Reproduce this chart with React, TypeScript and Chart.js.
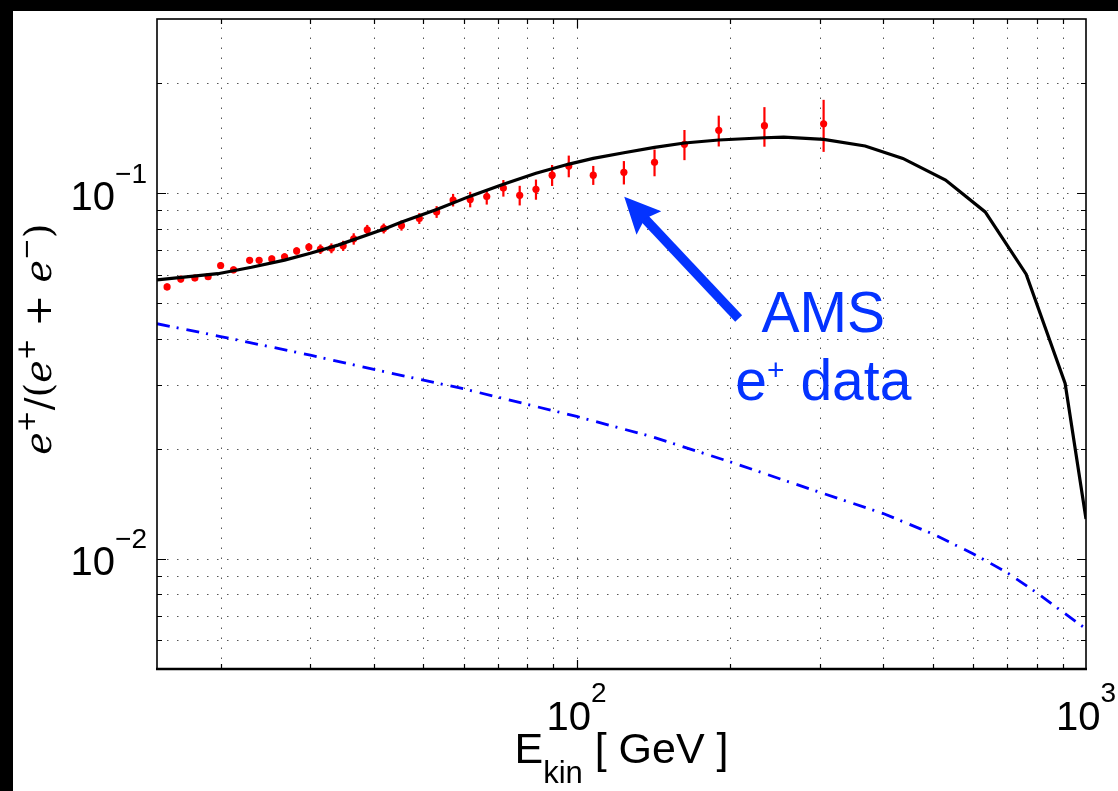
import React, { useEffect, useRef } from 'react';
import { Chart, registerables } from 'chart.js';

Chart.register(...registerables);

const WIDTH = 1118;
const HEIGHT = 791;

// AMS positron fraction data points
const amsEnergy = [15.7, 16.7, 17.8, 18.9, 20.0, 21.2, 22.8, 23.8, 25.2, 26.7, 28.2, 29.8, 31.4, 33.0, 34.8, 36.5, 38.8, 41.8, 45.3, 49.1, 53.1, 57.2, 61.8, 66.6, 71.8, 77.3, 83.2, 89.5, 96.5, 107.8, 123.8, 142.2, 162.8, 190.1, 233.7, 305.4];
const amsFraction = [0.0555, 0.0583, 0.0587, 0.0592, 0.0635, 0.0618, 0.0656, 0.0656, 0.0662, 0.0671, 0.0696, 0.0713, 0.0704, 0.0708, 0.0719, 0.0751, 0.0795, 0.0802, 0.0817, 0.0854, 0.0890, 0.0959, 0.0963, 0.0980, 0.1034, 0.0988, 0.1026, 0.1122, 0.1188, 0.1122, 0.1142, 0.1216, 0.1362, 0.1488, 0.1532, 0.1551];
const amsError = [0.0012, 0.0012, 0.0012, 0.0012, 0.0013, 0.0013, 0.0014, 0.0014, 0.0014, 0.0015, 0.0016, 0.0018, 0.0021, 0.0022, 0.0023, 0.0027, 0.0025, 0.0025, 0.0026, 0.0029, 0.0033, 0.0038, 0.0047, 0.0048, 0.0054, 0.0061, 0.0065, 0.0074, 0.0081, 0.0067, 0.0084, 0.0102, 0.0129, 0.0144, 0.0190, 0.0252];

// Model (black solid curve)
const modelEnergy = [15, 19.75, 23, 26.7, 30, 34, 41.9, 45.2, 53.1, 61.8, 71.8, 83.2, 96.6, 107.8, 123.8, 142.2, 162.8, 190.1, 233.7, 255, 305.4, 368.4, 436.9, 530, 634, 763, 910, 1000];
const modelFraction = [0.0580, 0.0603, 0.0628, 0.0657, 0.0686, 0.0722, 0.0799, 0.0834, 0.0904, 0.0983, 0.1060, 0.1135, 0.1203, 0.1247, 0.1292, 0.1337, 0.1374, 0.1400, 0.1420, 0.1426, 0.1406, 0.1348, 0.1247, 0.1088, 0.0890, 0.0601, 0.0302, 0.01287];

// Secondary background (blue dash-dot curve)
const secondaryEnergy = [15, 20, 30, 40, 60, 100, 140, 202, 253, 331, 400, 500, 600, 700, 800, 956, 1000];
const secondaryFraction = [0.0440, 0.0406, 0.0361, 0.0330, 0.0292, 0.02454, 0.02163, 0.01836, 0.01649, 0.01454, 0.01331, 0.01171, 0.01034, 0.00918, 0.00809, 0.00673, 0.00644];

// Axes
const xRange = [15, 1000];
const yRange = [0.005, 0.3];
const xGridValues = [20, 30, 40, 50, 60, 70, 80, 90, 100, 200, 300, 400, 500, 600, 700, 800, 900];
const xMajorValues = [100, 1000];
const yGridValues = [0.006, 0.007, 0.008, 0.009, 0.01, 0.02, 0.03, 0.04, 0.05, 0.06, 0.07, 0.08, 0.09, 0.1, 0.2];
const yMajorValues = [0.01, 0.1];
const xTickLabels = [
  { value: 100, base: '10', exp: '2' },
  { value: 1000, base: '10', exp: '3' },
];
const yTickLabels = [
  { value: 0.1, base: '10', exp: '\u22121' },
  { value: 0.01, base: '10', exp: '\u22122' },
];

// Annotation anchors (data coordinates)
const annotationTip = { x: 124, y: 0.0979 };
const annotationTail = { x: 208, y: 0.0455 };
const annotationText = { x: 305, line1: 0.0418, line2: 0.0272 };

const SANS = '"Liberation Sans", Arial, Helvetica, sans-serif';
const SERIF = '"DejaVu Serif", "Liberation Serif", serif';
const BLUE_ANN = '#0433ff';

type Run = { t: string; font: string; dy?: number };

function runsWidth(ctx: CanvasRenderingContext2D, runs: Run[]) {
  let w = 0;
  for (const r of runs) {
    ctx.font = r.font;
    w += ctx.measureText(r.t).width;
  }
  return w;
}

function drawRuns(ctx: CanvasRenderingContext2D, runs: Run[], x: number, y: number) {
  let cx = x;
  for (const r of runs) {
    ctx.font = r.font;
    ctx.fillText(r.t, cx, y + (r.dy || 0));
    cx += ctx.measureText(r.t).width;
  }
}

const decorPlugin = {
  id: 'decor',
  beforeDraw(chart: any) {
    const ctx: CanvasRenderingContext2D = chart.ctx;
    ctx.save();
    ctx.fillStyle = '#ffffff';
    ctx.fillRect(0, 0, WIDTH, HEIGHT);
    ctx.fillStyle = '#000000';
    ctx.fillRect(0, 0, WIDTH, 11);
    ctx.fillRect(0, 0, 13, HEIGHT);
    ctx.restore();
  },
  beforeDatasetsDraw(chart: any) {
    const ctx: CanvasRenderingContext2D = chart.ctx;
    const a = chart.chartArea;
    const xs = chart.scales.x;
    const ys = chart.scales.y;
    ctx.save();
    // dotted grid
    ctx.strokeStyle = '#555555';
    ctx.lineWidth = 1;
    ctx.setLineDash([1.5, 8.5]);
    for (const v of xGridValues) {
      const px = Math.round(xs.getPixelForValue(v)) + 0.5;
      ctx.beginPath();
      ctx.moveTo(px, a.bottom);
      ctx.lineTo(px, a.top);
      ctx.stroke();
    }
    for (const v of yGridValues) {
      const py = Math.round(ys.getPixelForValue(v)) + 0.5;
      ctx.beginPath();
      ctx.moveTo(a.left, py);
      ctx.lineTo(a.right, py);
      ctx.stroke();
    }
    ctx.setLineDash([]);
    // error bars
    ctx.strokeStyle = '#ff0000';
    ctx.lineWidth = 2.2;
    for (let i = 0; i < amsEnergy.length; i++) {
      const px = xs.getPixelForValue(amsEnergy[i]);
      const p1 = ys.getPixelForValue(amsFraction[i] - amsError[i]);
      const p2 = ys.getPixelForValue(amsFraction[i] + amsError[i]);
      ctx.beginPath();
      ctx.moveTo(px, p1);
      ctx.lineTo(px, p2);
      ctx.stroke();
    }
    ctx.restore();
  },
  afterDraw(chart: any) {
    const ctx: CanvasRenderingContext2D = chart.ctx;
    const a = chart.chartArea;
    const xs = chart.scales.x;
    const ys = chart.scales.y;
    ctx.save();

    // inward ticks
    ctx.strokeStyle = '#000000';
    ctx.lineWidth = 1.2;
    for (const v of xGridValues) {
      const len = xMajorValues.includes(v) ? 9 : 5;
      const px = Math.round(xs.getPixelForValue(v)) + 0.5;
      ctx.beginPath();
      ctx.moveTo(px, a.bottom);
      ctx.lineTo(px, a.bottom - len);
      ctx.moveTo(px, a.top);
      ctx.lineTo(px, a.top + len);
      ctx.stroke();
    }
    for (const v of yGridValues) {
      const len = yMajorValues.includes(v) ? 9 : 5;
      const py = Math.round(ys.getPixelForValue(v)) + 0.5;
      ctx.beginPath();
      ctx.moveTo(a.left, py);
      ctx.lineTo(a.left + len, py);
      ctx.moveTo(a.right, py);
      ctx.lineTo(a.right - len, py);
      ctx.stroke();
    }

    // frame
    ctx.lineWidth = 1.6;
    ctx.strokeStyle = '#000000';
    ctx.strokeRect(a.left, a.top, a.right - a.left, a.bottom - a.top);
    ctx.lineWidth = 2.6;
    ctx.beginPath();
    ctx.moveTo(a.left - 1, a.bottom);
    ctx.lineTo(a.right + 1, a.bottom);
    ctx.stroke();

    // tick labels
    ctx.fillStyle = '#000000';
    ctx.textBaseline = 'alphabetic';
    ctx.textAlign = 'left';
    for (const t of xTickLabels) {
      const runs: Run[] = [
        { t: t.base, font: `40px ${SANS}` },
        { t: t.exp, font: `28px ${SANS}`, dy: -28 },
      ];
      const w = runsWidth(ctx, runs);
      const px = xs.getPixelForValue(t.value);
      drawRuns(ctx, runs, px - w / 2, a.bottom + 61);
    }
    for (const t of yTickLabels) {
      const runs: Run[] = [
        { t: t.base, font: `40px ${SANS}` },
        { t: t.exp, font: `28px ${SANS}`, dy: -27 },
      ];
      const w = runsWidth(ctx, runs);
      const py = ys.getPixelForValue(t.value);
      drawRuns(ctx, runs, a.left - 10 - w, py + 16.5);
    }

    // x axis title
    const xTitle: Run[] = [
      { t: 'E', font: `43px ${SANS}` },
      { t: 'kin', font: `31px ${SANS}`, dy: 20 },
      { t: ' [ GeV ]', font: `43px ${SANS}` },
    ];
    const xw = runsWidth(ctx, xTitle);
    drawRuns(ctx, xTitle, (a.left + a.right) / 2 - xw / 2, 763);

    // y axis title (rotated)
    const yTitle: Run[] = [
      { t: 'e', font: `italic 38px ${SERIF}` },
      { t: '+', font: `26px ${SERIF}`, dy: -16 },
      { t: '/(', font: `38px ${SERIF}` },
      { t: 'e', font: `italic 38px ${SERIF}` },
      { t: '+', font: `26px ${SERIF}`, dy: -16 },
      { t: ' + ', font: `38px ${SERIF}` },
      { t: 'e', font: `italic 38px ${SERIF}` },
      { t: '\u2212', font: `26px ${SERIF}`, dy: -16 },
      { t: ')', font: `38px ${SERIF}` },
    ];
    const yw = runsWidth(ctx, yTitle);
    ctx.save();
    ctx.translate(51, (a.top + a.bottom) / 2 - 5);
    ctx.rotate(-Math.PI / 2);
    drawRuns(ctx, yTitle, -yw / 2, 0);
    ctx.restore();

    // annotation arrow
    const tipX = xs.getPixelForValue(annotationTip.x);
    const tipY = ys.getPixelForValue(annotationTip.y);
    const tailX = xs.getPixelForValue(annotationTail.x);
    const tailY = ys.getPixelForValue(annotationTail.y);
    const dx = tipX - tailX;
    const dy = tipY - tailY;
    const len = Math.hypot(dx, dy);
    const ux = dx / len;
    const uy = dy / len;
    const nx = -uy;
    const ny = ux;
    const headLen = 36;
    const headHalf = 17;
    const baseX = tipX - ux * headLen;
    const baseY = tipY - uy * headLen;
    ctx.strokeStyle = BLUE_ANN;
    ctx.fillStyle = BLUE_ANN;
    ctx.lineWidth = 9.5;
    ctx.lineCap = 'butt';
    ctx.beginPath();
    ctx.moveTo(tailX, tailY);
    ctx.lineTo(baseX + ux * 8, baseY + uy * 8);
    ctx.stroke();
    ctx.beginPath();
    ctx.moveTo(tipX, tipY);
    ctx.lineTo(baseX + nx * headHalf, baseY + ny * headHalf);
    ctx.lineTo(baseX + ux * 6, baseY + uy * 6);
    ctx.lineTo(baseX - nx * headHalf, baseY - ny * headHalf);
    ctx.closePath();
    ctx.fill();

    // annotation text
    const tx = xs.getPixelForValue(annotationText.x);
    const l1 = ys.getPixelForValue(annotationText.line1);
    const l2 = ys.getPixelForValue(annotationText.line2);
    const line1: Run[] = [{ t: 'AMS', font: `57px ${SANS}` }];
    const line2: Run[] = [
      { t: 'e', font: `57px ${SANS}` },
      { t: '+', font: `30px ${SANS}`, dy: -20 },
      { t: ' data', font: `57px ${SANS}` },
    ];
    const w1 = runsWidth(ctx, line1);
    const w2 = runsWidth(ctx, line2);
    drawRuns(ctx, line1, tx - w1 / 2, l1);
    drawRuns(ctx, line2, tx - w2 / 2, l2);

    ctx.restore();
  },
};

export default function App() {
  const canvasRef = useRef<HTMLCanvasElement | null>(null);

  useEffect(() => {
    document.body.style.margin = '0';
    const canvas = canvasRef.current;
    if (!canvas) return;
    const chart = new Chart(canvas, {
      type: 'scatter',
      data: {
        datasets: [
          {
            label: 'model',
            data: modelEnergy.map((e, i) => ({ x: e, y: modelFraction[i] })),
            showLine: true,
            borderColor: '#000000',
            borderWidth: 3.2,
            pointRadius: 0,
            tension: 0,
            fill: false,
            order: 0,
          },
          {
            label: 'AMS',
            data: amsEnergy.map((e, i) => ({ x: e, y: amsFraction[i] })),
            showLine: false,
            pointRadius: 3.6,
            pointBackgroundColor: '#ff0000',
            pointBorderWidth: 0,
            backgroundColor: '#ff0000',
            borderColor: '#ff0000',
            order: 1,
          },
          {
            label: 'secondary',
            data: secondaryEnergy.map((e, i) => ({ x: e, y: secondaryFraction[i] })),
            showLine: true,
            borderColor: '#0000ff',
            borderWidth: 2.8,
            borderDash: [13, 7, 2, 8],
            pointRadius: 0,
            tension: 0,
            fill: false,
            order: 2,
          },
        ],
      },
      options: {
        responsive: false,
        animation: false,
        events: [],
        layout: { padding: { left: 157, top: 19, right: 32, bottom: 122 } },
        plugins: { legend: { display: false }, tooltip: { enabled: false } },
        scales: {
          x: { type: 'logarithmic', min: xRange[0], max: xRange[1], display: false },
          y: { type: 'logarithmic', min: yRange[0], max: yRange[1], display: false },
        },
      },
      plugins: [decorPlugin],
    } as any);
    return () => chart.destroy();
  }, []);

  return (
    <div style={{ position: 'fixed', left: 0, top: 0, width: WIDTH, height: HEIGHT }}>
      <canvas ref={canvasRef} width={WIDTH} height={HEIGHT} style={{ display: 'block' }} />
    </div>
  );
}
